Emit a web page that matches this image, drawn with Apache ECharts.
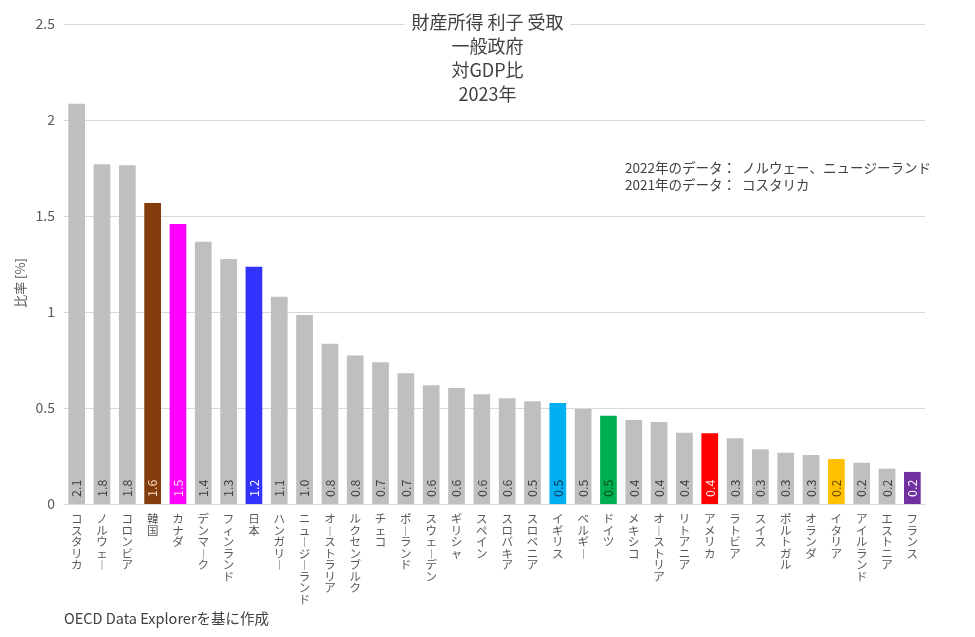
<!DOCTYPE html>
<html>
<head>
<meta charset="utf-8">
<script src="https://cdn.jsdelivr.net/npm/echarts@6/dist/echarts.min.js"></script>
<style>
html,body{margin:0;padding:0;background:#fff;}
#main{width:975px;height:637px;}
</style>
</head>
<body>
<div id="main"></div>
<script>
// 国名（並び順は値の大きい順）
var countries = ['コスタリカ','ノルウェー','コロンビア','韓国','カナダ','デンマーク','フィンランド','日本','ハンガリー','ニュージーランド',
    'オーストラリア','ルクセンブルク','チェコ','ポーランド','スウェーデン','ギリシャ','スペイン','スロバキア','スロベニア','イギリス',
    'ベルギー','ドイツ','メキシコ','オーストリア','リトアニア','アメリカ','ラトビア','スイス','ポルトガル','オランダ',
    'イタリア','アイルランド','エストニア','フランス'];
// 財産所得 利子 受取 対GDP比 [%]
var ratios = [2.085,1.77,1.764,1.568,1.458,1.366,1.276,1.236,1.08,0.984,
    0.835,0.774,0.738,0.681,0.618,0.604,0.571,0.551,0.535,0.526,
    0.495,0.46,0.438,0.427,0.371,0.368,0.342,0.285,0.267,0.255,
    0.234,0.215,0.184,0.167];
var yTicks = [0,0.5,1,1.5,2,2.5];
var titleLines = ['財産所得 利子 受取','一般政府','対GDP比','2023年'];
var noteLines = ['2022年のデータ：  ノルウェー、ニュージーランド','2021年のデータ：  コスタリカ'];
var sourceText = 'OECD Data Explorerを基に作成';

// 強調する国の色（バー色, ラベル色）
var highlight = {
    '韓国':['#843C0C','#F8E0CC'],
    'カナダ':['#FF00FF','#FFD6FF'],
    '日本':['#3333FF','#FFFFFF'],
    'イギリス':['#00B0F0','#0B3D63'],
    'ドイツ':['#00B050','#0A4A22'],
    'アメリカ':['#FF0000','#FFE0E0'],
    'イタリア':['#FFC000','#6B4A00'],
    'フランス':['#7030A0','#FFFFFF']
};
var font = '"Noto Sans CJK JP","Noto Sans",sans-serif';

var barData = [];
for (var i = 0; i < countries.length; i++) {
    var c = highlight[countries[i]];
    barData.push({
        value: ratios[i],
        itemStyle: {color: c ? c[0] : '#BFBFBF'},
        label: {color: c ? c[1] : '#404040'}
    });
}

// 縦書き風：1文字ずつ改行
function verticalText(s) {
    return s.split('').map(function (ch) {
        return ch === 'ー' ? '︱' : ch;
    }).join('\n');
}

var option = {
    backgroundColor: '#fff',
    animation: false,
    title: {
        text: titleLines.join('\n'),
        left: 'center',
        top: 10,
        padding: [0, 7],
        backgroundColor: '#fff',
        textStyle: {
            fontFamily: font,
            fontSize: 18,
            fontWeight: 'normal',
            lineHeight: 24,
            color: '#404040'
        }
    },
    grid: {left: 64, right: 50, top: 24, bottom: 133},
    xAxis: {
        type: 'category',
        data: countries,
        axisLine: {show: true, lineStyle: {color: '#D9D9D9'}},
        axisTick: {show: false},
        axisLabel: {
            interval: 0,
            margin: 9,
            verticalAlign: 'top',
            fontFamily: font,
            fontSize: 11.5,
            lineHeight: 11.5,
            color: '#595959',
            formatter: verticalText
        }
    },
    yAxis: {
        type: 'value',
        min: yTicks[0],
        max: yTicks[yTicks.length - 1],
        interval: 0.5,
        axisLine: {show: false},
        axisTick: {show: false},
        splitLine: {lineStyle: {color: '#D9D9D9', width: 1}},
        axisLabel: {
            margin: 9,
            fontFamily: font,
            fontSize: 14,
            color: '#595959'
        }
    },
    graphic: [
        {
            type: 'text',
            x: 20, y: 283,
            rotation: Math.PI / 2,
            style: {
                text: '比率 [%]',
                fontFamily: font,
                fontSize: 13,
                fill: '#595959',
                align: 'center',
                verticalAlign: 'middle'
            }
        },
        {
            type: 'text',
            left: 625, top: 159,
            style: {
                text: noteLines.join('\n'),
                fontFamily: font,
                fontSize: 13.5,
                lineHeight: 17,
                fill: '#404040'
            }
        },
        {
            type: 'text',
            left: 64, top: 611,
            style: {
                text: sourceText,
                fontFamily: font,
                fontSize: 14.5,
                fill: '#404040'
            }
        }
    ],
    series: [{
        type: 'bar',
        data: barData,
        barCategoryGap: '34%',
        label: {
            show: true,
            position: 'insideBottom',
            rotate: 90,
            align: 'left',
            verticalAlign: 'middle',
            distance: 7,
            fontFamily: font,
            fontSize: 12.5,
            formatter: function (p) {
                return p.value.toFixed(1);
            }
        }
    }]
};

var myChart = echarts.init(document.getElementById('main'));
myChart.setOption(option);
</script>
</body>
</html>
